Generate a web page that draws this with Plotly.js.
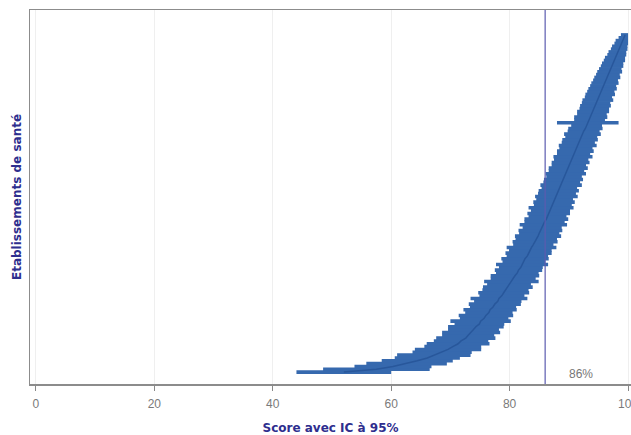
<!DOCTYPE html>
<html>
<head>
<meta charset="utf-8">
<script src="https://cdn.plot.ly/plotly-3.0.1.min.js"></script>
<style>html,body{margin:0;padding:0;background:#fff;}#chart{width:631px;height:435px;}</style>
</head>
<body>
<div id="chart"></div>
<script>
// Scores of establishments (sorted, lowest first)
const score = [
52.0,57.5,60.3,62.6,64.4,66.1,67.2,68.6,69.6,70.4,
71.3,71.8,72.6,73.0,73.5,73.9,74.3,74.9,75.1,75.7,
76.0,76.5,76.7,77.2,77.5,78.0,78.2,78.7,79.0,79.3,
79.7,79.9,80.3,80.6,80.9,81.3,81.5,81.9,82.1,82.4,
82.6,83.0,83.2,83.5,83.7,84.0,84.3,84.5,84.8,85.0,
85.2,85.5,85.7,85.9,86.2,86.4,86.6,86.9,87.0,87.3,
87.5,87.6,87.9,88.0,88.3,88.4,88.7,88.8,89.1,89.2,
89.5,89.6,89.9,90.0,90.3,90.4,90.7,90.8,91.1,91.2,
91.5,91.6,91.9,92.1,92.3,92.5,92.8,93.0,93.2,93.5,
93.7,93.9,94.1,94.3,94.5,94.6,94.9,95.0,95.3,95.4,
95.7,95.8,96.1,96.2,96.5,96.6,96.9,97.0,97.3,97.4,
97.7,97.8,98.1,98.2,98.5,98.6,98.9,99.0,99.3,99.5
];
// Half-width of the 95% CI for each establishment
const halfWidth = [
8.0,9.0,6.5,6.8,6.0,5.5,6.2,5.0,5.6,4.8,
5.3,4.6,5.0,4.4,4.9,4.3,4.7,4.2,5.1,4.1,
4.6,4.0,4.5,3.9,4.4,4.0,4.8,3.8,4.3,3.9,
4.2,3.7,4.6,3.8,4.1,3.6,4.0,3.7,4.4,3.6,
4.0,3.5,3.9,3.6,4.2,3.4,3.8,3.5,3.9,3.4,
3.7,3.3,4.0,3.4,3.7,3.2,3.6,3.3,3.8,3.2,
3.5,3.1,3.6,3.2,3.4,3.0,3.5,3.1,3.3,3.0,
3.4,3.0,3.3,2.9,3.2,2.9,3.3,2.8,3.1,2.8,
3.2,2.8,3.0,2.7,3.1,2.7,2.9,2.6,5.2,2.6,
2.8,2.5,2.7,2.5,2.6,2.4,2.6,2.3,2.5,2.3,
2.4,2.2,2.3,2.1,2.2,2.0,2.1,1.9,1.9,1.8,
1.8,1.7,1.6,1.5,1.4,1.3,1.2,1.1,0.9,0.7
];
const xTicks = [0,20,40,60,80,100];
const reference = 86;
const referenceLabel = "86%";

const rank = score.map((_, i) => i + 1);
const errPlus = score.map((s, i) => Math.min(halfWidth[i], 100 - s));
const errMinus = halfWidth.slice();

const titleFont = {size: 12, color: '#2e2e8e', family: 'DejaVu Sans, Verdana, sans-serif', weight: 'bold'};

const traces = [{
  type: 'scatter', mode: 'markers',
  x: score, y: rank,
  marker: {size: 1, color: '#3568ad', opacity: 0},
  error_x: {type: 'data', symmetric: false, array: errPlus, arrayminus: errMinus,
            color: '#3669ae', thickness: 3.6, width: 0},
  hoverinfo: 'skip', showlegend: false
}, {
  type: 'scatter', mode: 'lines',
  x: score, y: rank,
  line: {color: '#28579b', width: 1.5},
  hoverinfo: 'skip', showlegend: false
}];

const layout = {
  width: 631, height: 435,
  margin: {l: 30, r: 0, t: 10, b: 51},
  paper_bgcolor: '#ffffff', plot_bgcolor: '#ffffff',
  font: {family: 'Liberation Sans, Arial, sans-serif', color: '#777777', size: 11},
  xaxis: {
    range: [-1, 100.5], tickvals: xTicks, ticktext: xTicks.map(String),
    ticks: 'outside', ticklen: 5, tickcolor: '#888888', tickwidth: 1,
    ticklabelstandoff: 3, ticklabeloverflow: 'allow',
    showline: true, linecolor: '#8c8c8c', linewidth: 1.5, mirror: true,
    showgrid: true, gridcolor: '#efefef', zeroline: false,
    tickfont: {size: 12, color: '#7a7a7a'},
    title: {text: 'Score avec IC à 95%', standoff: 18, font: titleFont}
  },
  yaxis: {
    range: [-3.2, 128.8], showticklabels: false, ticks: '',
    showline: true, linecolor: '#8c8c8c', linewidth: 1.5, mirror: false,
    showgrid: false, zeroline: false,
    title: {text: 'Etablissements de santé', standoff: 4, font: titleFont}
  },
  shapes: [{type: 'line', xref: 'x', yref: 'paper', x0: reference, x1: reference, y0: 0, y1: 1,
            line: {color: '#5b5bb0', width: 1.2}}],
  annotations: [{xref: 'x', yref: 'paper', x: reference, y: 0, xanchor: 'left', yanchor: 'bottom',
                 xshift: 22, yshift: 1, text: referenceLabel, showarrow: false,
                 font: {size: 12, color: '#777777'}}]
};

Plotly.newPlot('chart', traces, layout, {displayModeBar: false, staticPlot: true});
</script>
</body>
</html>
